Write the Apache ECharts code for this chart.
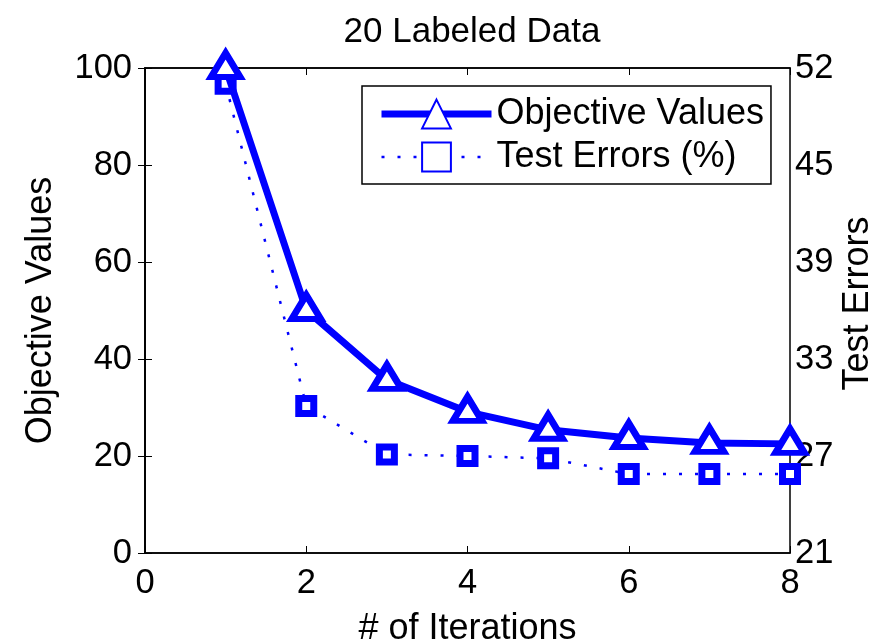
<!DOCTYPE html>
<html>
<head>
<meta charset="utf-8">
<script src="https://cdn.jsdelivr.net/npm/echarts@6/dist/echarts.min.js"></script>
<style>
  html, body { margin: 0; padding: 0; background: #fff; }
  #chart { width: 883px; height: 641px; }
</style>
</head>
<body>
<div id="chart"></div>
<script>
// Iteration index on the x axis
const iterations = [1, 2, 3, 4, 5, 6, 7, 8];
// Objective value after each iteration (left axis)
const objectiveValues = [100, 50.1, 35.7, 29.1, 25.4, 23.7, 22.7, 22.5];
// Test error in percent after each iteration (right axis)
const testErrors = [51.0, 30.4, 27.3, 27.2, 27.05, 26.05, 26.05, 26.05];
// Right-axis ticks: five equal steps from 21 to 52, printed truncated
const rightTickValues = [21, 27.2, 33.4, 39.6, 45.8, 52];
const rightTickLabels = ['21', '27', '33', '39', '45', '52'];

const FONT = 'Liberation Sans, Arial, Helvetica, sans-serif';
const BLUE = '#0000ff';

const chart = echarts.init(document.getElementById('chart'), null, { renderer: 'canvas' });

const axisLine = { show: true, lineStyle: { color: '#000', width: 1.5 } };
const tickStyle = { show: true, inside: true, length: 7, lineStyle: { color: '#000', width: 1 } };
const tickFont = { color: '#000', fontFamily: FONT, fontSize: 34.5 };
const nameFont = { color: '#000', fontFamily: FONT, fontSize: 36 };

chart.setOption({
  animation: false,
  backgroundColor: '#fff',
  title: {
    text: '20 Labeled Data',
    left: 467,
    top: 10,
    textAlign: 'center',
    textStyle: { color: '#000', fontFamily: FONT, fontSize: 35, fontWeight: 'normal' }
  },
  grid: {
    left: 145, right: 93, top: 68, bottom: 88,
    outerBoundsMode: 'none',
    containLabel: false,
    show: true, borderColor: '#000', borderWidth: 1.5, backgroundColor: '#fff'
  },
  legend: {
    orient: 'vertical',
    left: 362,
    top: 86,
    itemWidth: 110,
    itemHeight: 36,
    itemGap: 7,
    padding: [10, 7, 9, 16],
    backgroundColor: '#fff',
    borderColor: '#000',
    borderWidth: 1.5,
    textStyle: { color: '#000', fontFamily: FONT, fontSize: 36 },
    data: [
      { name: 'Objective Values', lineStyle: { width: 7 } },
      { name: 'Test Errors (%)', lineStyle: { width: 2.5 } }
    ]
  },
  xAxis: [
    {
      type: 'value', position: 'bottom',
      min: 0, max: 8, interval: 2,
      name: '# of Iterations', nameLocation: 'middle', nameGap: 58,
      nameTextStyle: nameFont,
      axisLine: axisLine, axisTick: tickStyle,
      axisLabel: Object.assign({ margin: 13 }, tickFont),
      splitLine: { show: false }
    },
    {
      type: 'value', position: 'top',
      min: 0, max: 8, interval: 2,
      axisLine: axisLine, axisTick: tickStyle,
      axisLabel: { show: false },
      splitLine: { show: false }
    }
  ],
  yAxis: [
    {
      type: 'value', position: 'left',
      min: 0, max: 100, interval: 20,
      name: 'Objective Values', nameLocation: 'middle', nameGap: 86, nameRotate: 90,
      nameTextStyle: nameFont,
      axisLine: axisLine, axisTick: tickStyle,
      axisLabel: Object.assign({ margin: 13 }, tickFont),
      splitLine: { show: false }
    },
    {
      type: 'value', position: 'right',
      min: 21, max: 52,
      name: 'Test Errors', nameLocation: 'middle', nameGap: 50, nameRotate: 90,
      nameMoveOverlap: false,
      nameTextStyle: Object.assign({ padding: [0, 0, 0, 14] }, nameFont),
      axisLine: axisLine,
      axisTick: Object.assign({ customValues: rightTickValues }, tickStyle),
      axisLabel: Object.assign({
        margin: 5,
        customValues: rightTickValues,
        formatter: function (v) {
          const i = rightTickValues.findIndex(t => Math.abs(t - v) < 1e-6);
          return i >= 0 ? rightTickLabels[i] : '';
        }
      }, tickFont),
      splitLine: { show: false }
    }
  ],
  series: [
    {
      name: 'Objective Values',
      type: 'line',
      xAxisIndex: 0, yAxisIndex: 0,
      data: iterations.map((x, i) => [x, objectiveValues[i]]),
      symbol: 'triangle',
      symbolSize: [29, 24],
      symbolOffset: [0, -3],
      lineStyle: { color: BLUE, width: 7 },
      itemStyle: { color: '#fff', borderColor: BLUE, borderWidth: 6.5 },
      clip: false,
      z: 3
    },
    {
      name: 'Test Errors (%)',
      type: 'line',
      xAxisIndex: 0, yAxisIndex: 1,
      data: iterations.map((x, i) => [x, testErrors[i]]),
      symbol: 'rect',
      symbolSize: 15,
      lineStyle: { color: BLUE, width: 2.5, type: [3, 13] },
      itemStyle: { color: '#fff', borderColor: BLUE, borderWidth: 7 },
      clip: false,
      z: 2
    }
  ]
});
</script>
</body>
</html>
